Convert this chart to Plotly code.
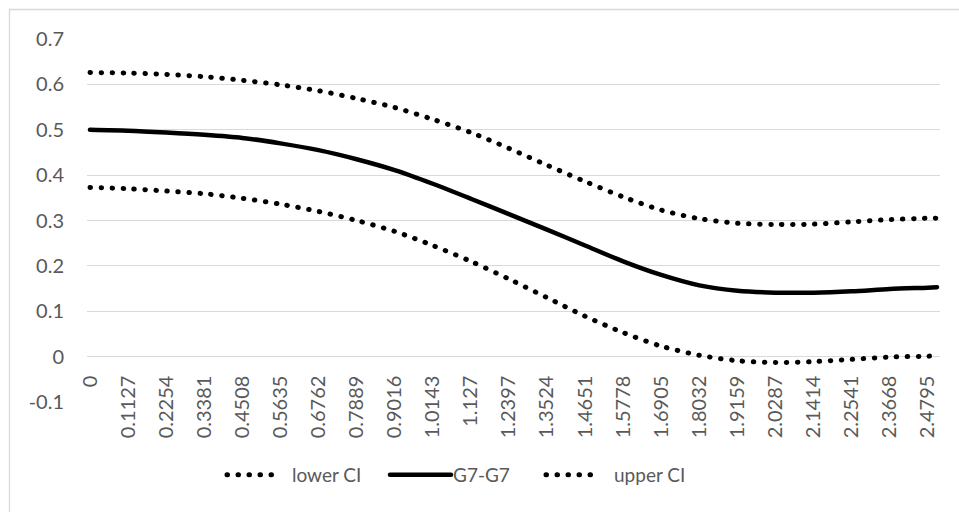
import plotly.graph_objects as go

# ---- data ----
x_tick_labels = ["0", "0.1127", "0.2254", "0.3381", "0.4508", "0.5635", "0.6762",
                 "0.7889", "0.9016", "1.0143", "1.127", "1.2397", "1.3524", "1.4651",
                 "1.5778", "1.6905", "1.8032", "1.9159", "2.0287", "2.1414", "2.2541",
                 "2.3668", "2.4795"]
x_end = 2.5066
x_values = [float(t) for t in x_tick_labels] + [x_end]

g7_g7 = [0.500, 0.498, 0.494, 0.489, 0.482, 0.470, 0.455, 0.435, 0.411, 0.381,
         0.348, 0.314, 0.280, 0.245, 0.210, 0.180, 0.157, 0.145, 0.141, 0.141,
         0.144, 0.149, 0.152, 0.153]
upper_ci = [0.626, 0.625, 0.622, 0.617, 0.609, 0.599, 0.586, 0.569, 0.549, 0.523,
            0.494, 0.459, 0.422, 0.386, 0.352, 0.323, 0.304, 0.294, 0.291, 0.292,
            0.297, 0.302, 0.305, 0.305]
lower_ci = [0.373, 0.370, 0.365, 0.359, 0.349, 0.336, 0.320, 0.300, 0.276, 0.245,
            0.210, 0.171, 0.130, 0.089, 0.053, 0.023, 0.003, -0.009, -0.013, -0.011,
            -0.006, -0.001, 0.001, 0.002]

y_tick_values = [-0.1, 0, 0.1, 0.2, 0.3, 0.4, 0.5, 0.6, 0.7]
y_tick_labels = ["-0.1", "0", "0.1", "0.2", "0.3", "0.4", "0.5", "0.6", "0.7"]

FONT = "Lato, 'Open Sans', sans-serif"
GRAY = "#595959"
GRID = "#d9d9d9"

fig = go.Figure()
dot_line = dict(color="black", width=5, dash="0.5px,10.5px", shape="spline", smoothing=0.8)
fig.add_trace(go.Scatter(x=x_values, y=lower_ci, mode="lines", name="lower CI", line=dot_line))
fig.add_trace(go.Scatter(x=x_values, y=g7_g7, mode="lines", name="G7-G7",
                         line=dict(color="black", width=4.5, shape="spline", smoothing=0.8)))
fig.add_trace(go.Scatter(x=x_values, y=upper_ci, mode="lines", name="upper CI", line=dot_line))

W, H = 959, 512
ml, mr, mt, mb = 87, 19, 39, 110
pw = W - ml - mr
ph = H - mt - mb


def px_to_paper_x(px):
    return (px - ml) / pw


def px_to_paper_y(py):
    return (H - mb - py) / ph


# chart border (Excel chart area outline)
fig.add_shape(type="rect", xref="paper", yref="paper",
              x0=px_to_paper_x(9.5), x1=px_to_paper_x(965),
              y0=px_to_paper_y(520), y1=px_to_paper_y(9.5),
              line=dict(color=GRID, width=1.3), fillcolor="rgba(0,0,0,0)", layer="below")

fig.update_layout(
    width=W, height=H,
    margin=dict(l=ml, r=mr, t=mt, b=mb, pad=0),
    paper_bgcolor="white", plot_bgcolor="white",
    font=dict(family=FONT, size=19, color=GRAY),
    showlegend=True,
    legend=dict(orientation="h", x=px_to_paper_x(252), y=px_to_paper_y(475),
                xanchor="left", yanchor="middle",
                font=dict(family=FONT, size=19, color=GRAY), bgcolor="rgba(0,0,0,0)",
                entrywidth=116, entrywidthmode="pixels", itemwidth=30),
    xaxis=dict(
        range=[-0.0089, x_end + 0.0089],
        tickmode="array", tickvals=x_values[:-1], ticktext=x_tick_labels,
        tickangle=-90, showgrid=False, zeroline=False, showline=False,
        ticks="", anchor="free", position=0.125, ticklabelstandoff=14,
        tickfont=dict(family=FONT, size=20, color=GRAY),
    ),
    yaxis=dict(
        range=[-0.1, 0.7], domain=[0, 1],
        tickmode="array", tickvals=y_tick_values, ticktext=y_tick_labels,
        showgrid=True, gridcolor=GRID, gridwidth=1.3,
        zeroline=False, showline=False, ticks="", ticklabelstandoff=22,
        tickfont=dict(family=FONT, size=20, color=GRAY),
    ),
)

post = """
document.body.style.margin='0';
document.querySelectorAll('.legend .scrollbox, .legend').forEach(function(s){
  s.removeAttribute('clip-path');
});
var specs = [[-25,50],[-23,61],[-28,53]];
document.querySelectorAll('.legend g.traces').forEach(function(g,i){
  var p = g.querySelector('path.js-line');
  if (p && specs[i]) { p.setAttribute('d','M'+specs[i][0]+',0h'+specs[i][1]); }
});
document.querySelectorAll('path.js-line').forEach(function(p){p.style.strokeLinecap='round';});
"""
fig.write_html("out.html", post_script=post, config={"displayModeBar": False})
